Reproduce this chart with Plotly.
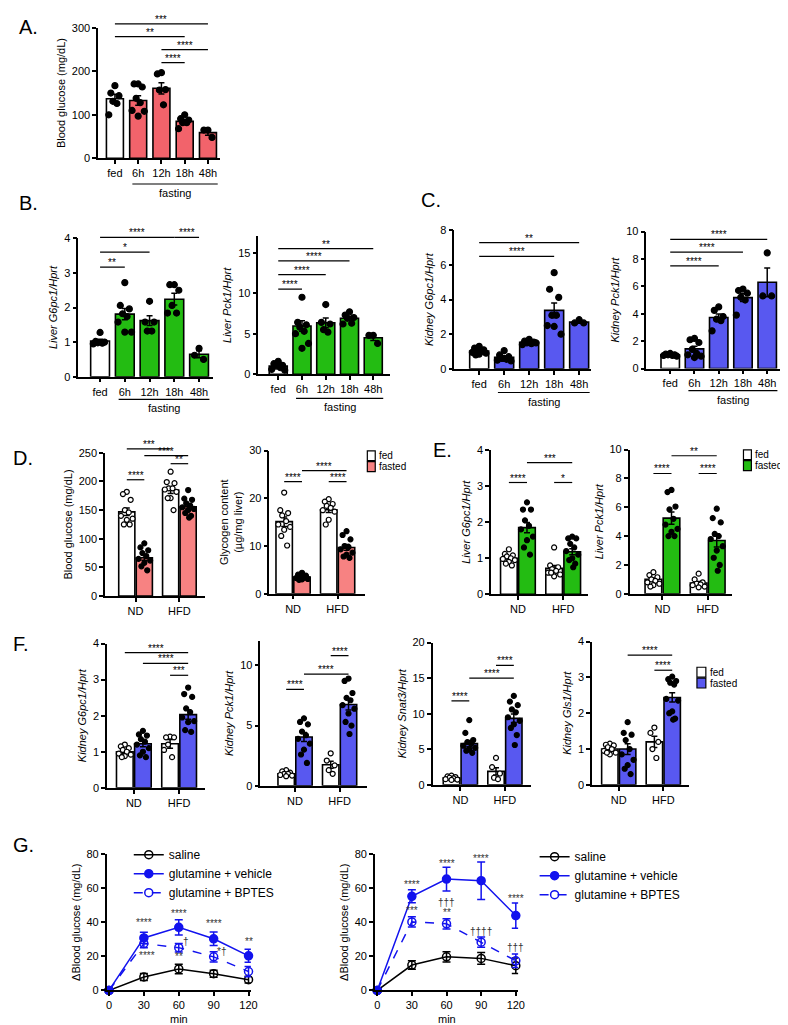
import plotly.graph_objects as go

W, H = 788, 1025
FONT = "Arial, Liberation Sans, Helvetica, sans-serif"

# colours
WHITE = "white"
RED = "#f2636b"
PINK = "#f78282"
GREEN = "#23bc12"
PURPLE = "#5858f0"
BLUE = "#1212ee"

# ---------------- data ----------------
time_labels = ["fed", "6h", "12h", "18h", "48h"]
diet_labels = ["ND", "HFD"]

# A. blood glucose during fasting
a_mean = [137, 133, 161, 85, 59]
a_sem = [10, 11, 13, 4, 6]
a_pts = [[167, 150, 144, 131, 126, 100], [171, 171, 164, 138, 128, 110, 108, 97],
         [197, 194, 158, 157, 123], [100, 91, 88, 82, 82, 68], [65, 65, 48]]
a_sig = [(0, 4, 309, "***"), (0, 3, 280, "**"), (2, 4, 250, "****"), (2, 3, 220, "****")]

# B. liver
b1_mean = [1.03, 1.81, 1.62, 2.24, 0.65]
b1_sem = [0.05, 0.16, 0.14, 0.17, 0.1]
b1_pts = [[1.28, 1.02, 1.0, 0.98, 0.97, 0.95], [2.72, 2.06, 1.96, 1.82, 1.74, 1.58, 1.29, 1.29],
          [2.18, 1.58, 1.58, 1.32, 1.32], [2.66, 2.66, 2.5, 2.06, 1.84, 1.84], [0.82, 0.62, 0.5]]
b1_sig = [(0, 3, 4.03, "****"), (3, 4, 4.03, "****"), (0, 2, 3.6, "*"), (0, 1, 3.17, "**")]

b2_mean = [1.0, 5.95, 6.35, 6.9, 4.5]
b2_sem = [0.15, 0.65, 0.6, 0.25, 0.35]
b2_pts = [[1.6, 1.3, 1.1, 1.0, 0.8, 0.6, 0.5], [9.5, 6.4, 6.1, 5.8, 5.3, 5.0, 3.8, 3.2],
          [8.6, 6.4, 6.2, 5.5, 5.2], [7.7, 7.3, 7.0, 6.9, 6.3, 6.2], [4.8, 4.8, 3.8]]
b2_sig = [(0, 4, 15.5, "**"), (0, 3, 14.0, "****"), (0, 2, 12.3, "****"), (0, 1, 10.5, "****")]

# C. kidney
c1_mean = [1.03, 0.66, 1.53, 3.38, 2.7]
c1_sem = [0.05, 0.07, 0.04, 0.43, 0.06]
c1_pts = [[1.3, 1.2, 1.1, 1.05, 1.0, 0.95, 0.9, 0.85, 0.8], [1.05, 0.8, 0.7, 0.6, 0.55, 0.5, 0.45, 0.6],
          [1.7, 1.6, 1.55, 1.5, 1.45, 1.4, 1.5], [5.56, 4.6, 4.13, 3.1, 3.1, 2.5, 2.0, 2.45], [2.84, 2.65, 2.65]]
c1_sig = [(0, 4, 7.3, "**"), (0, 3, 6.5, "****")]

c2_mean = [1.0, 1.43, 3.73, 5.18, 6.3]
c2_sem = [0.03, 0.2, 0.25, 0.28, 1.05]
c2_pts = [[1.1, 1.05, 1.0, 1.0, 0.95, 0.95, 0.9], [2.2, 2.1, 1.9, 1.4, 1.1, 1.0, 0.9, 0.8],
          [4.5, 4.25, 3.8, 3.6, 3.5, 2.75], [5.8, 5.7, 5.5, 5.2, 5.0, 3.9], [8.45, 5.3, 5.3]]
c2_sig = [(0, 4, 9.44, "****"), (0, 3, 8.5, "****"), (0, 2, 7.5, "****")]

# D. ND / HFD  (order: fed ND, fasted ND, fed HFD, fasted HFD)
d1_mean = [147, 67, 185, 156]
d1_sem = [6.5, 4.5, 6, 4]
d1_pts = [[182, 178, 168, 150, 146, 140, 135, 133, 125, 125], [92, 85, 80, 75, 70, 65, 62, 58, 52, 45],
          [217, 199, 197, 188, 188, 186, 182, 171, 171, 150], [185, 170, 168, 162, 158, 155, 152, 150, 145, 140, 137]]
d1_sig = [(0, 2, 257, "***"), (1, 3, 245, "****"), (2, 3, 231, "**"), (0, 1, 203, "****")]

d2_mean = [15.1, 3.5, 17.6, 9.7]
d2_sem = [1.0, 0.2, 0.6, 0.6]
d2_pts = [[21.2, 17.5, 16.9, 16.4, 15.2, 14.5, 14.0, 13.4, 12.1, 10.1], [4.4, 4.0, 3.8, 3.6, 3.5, 3.3, 3.1, 3.0, 2.9, 3.4],
          [19.8, 19.3, 18.8, 18.4, 18.0, 17.5, 17.2, 15.5, 14.5], [13.1, 12.3, 11.4, 10.0, 9.8, 9.3, 8.6, 8.2, 7.8, 7.5]]
d2_sig = [(0, 1, 23.5, "****"), (1, 3, 25.8, "****"), (2, 3, 23.5, "****")]

# E. liver ND / HFD
e1_mean = [1.0, 1.85, 0.72, 1.18]
e1_sem = [0.05, 0.14, 0.08, 0.08]
e1_pts = [[1.25, 1.12, 1.08, 1.05, 1.0, 0.98, 0.95, 0.9, 0.85, 0.8], [2.55, 2.35, 2.35, 2.05, 1.9, 1.8, 1.6, 1.5, 1.3, 1.1],
          [1.3, 0.8, 0.75, 0.7, 0.65, 0.6, 0.55, 0.5, 0.6], [1.6, 1.55, 1.55, 1.4, 1.3, 1.2, 1.1, 1.0, 0.95, 0.85, 0.75]]
e1_sig = [(1, 3, 3.65, "***"), (0, 1, 3.1, "****"), (2, 3, 3.1, "*")]

e2_mean = [1.0, 5.25, 0.75, 3.7]
e2_sem = [0.1, 0.42, 0.1, 0.45]
e2_pts = [[1.5, 1.3, 1.15, 1.0, 0.9, 0.8, 0.7, 0.6, 0.5], [7.2, 7.05, 6.05, 5.85, 5.2, 4.8, 4.5, 4.3, 4.0, 4.0],
          [1.4, 1.0, 0.8, 0.7, 0.65, 0.6, 0.5, 0.45], [5.9, 5.25, 4.95, 4.15, 4.0, 3.8, 3.3, 3.0, 2.5, 2.0, 1.6]]
e2_sig = [(1, 3, 9.57, "**"), (0, 1, 8.34, "****"), (2, 3, 8.34, "****")]

# F. kidney ND / HFD
f1_mean = [1.0, 1.22, 1.22, 2.03]
f1_sem = [0.04, 0.08, 0.12, 0.13]
f1_pts = [[1.2, 1.15, 1.1, 1.05, 1.0, 0.95, 0.92, 0.88, 0.85], [1.58, 1.48, 1.45, 1.35, 1.28, 1.2, 1.1, 1.0, 0.9, 0.85],
          [1.42, 1.4, 1.4, 1.2, 0.85, 1.05], [2.78, 2.6, 2.52, 2.2, 2.1, 1.95, 1.85, 1.82, 1.6, 1.55]]
f1_sig = [(0, 3, 3.75, "****"), (1, 3, 3.45, "****"), (2, 3, 3.12, "***")]

f2_mean = [1.0, 4.05, 1.75, 6.75]
f2_sem = [0.06, 0.38, 0.3, 0.45]
f2_pts = [[1.3, 1.2, 1.1, 1.0, 1.0, 0.9, 0.85, 0.8], [5.6, 5.3, 5.1, 4.5, 4.2, 3.9, 3.5, 3.0, 2.6, 1.9],
          [2.7, 2.1, 1.7, 1.3, 1.0], [8.9, 8.7, 7.7, 7.3, 7.1, 6.7, 6.4, 6.0, 5.3, 5.0, 4.3]]
f2_sig = [(0, 1, 8.0, "****"), (1, 3, 9.26, "****"), (2, 3, 10.8, "****")]

f3_mean = [1.0, 5.8, 1.9, 9.35]
f3_sem = [0.07, 0.45, 0.5, 0.6]
f3_pts = [[1.3, 1.2, 1.1, 1.0, 0.9, 0.8, 0.75, 0.7], [9.1, 7.3, 6.3, 6.0, 5.8, 5.5, 5.2, 5.0, 4.8, 4.5],
          [3.8, 2.5, 1.6, 1.0, 0.8], [12.5, 11.7, 11.2, 10.6, 10.2, 9.5, 9.0, 8.5, 8.0, 7.0, 5.6]]
f3_sig = [(0, 1, 11.8, "****"), (1, 3, 15.0, "****"), (2, 3, 16.8, "****")]

f4_mean = [1.0, 1.0, 1.2, 2.44]
f4_sem = [0.04, 0.15, 0.16, 0.13]
f4_pts = [[1.15, 1.12, 1.1, 1.05, 1.0, 0.95, 0.9, 0.85, 0.9], [1.75, 1.45, 1.4, 1.25, 1.0, 0.85, 0.7, 0.55, 0.45, 0.3],
          [1.6, 1.45, 1.2, 1.0, 0.75], [3.02, 2.95, 2.9, 2.85, 2.8, 2.4, 2.35, 2.05, 2.0, 1.85, 1.82]]
f4_sig = [(1, 3, 3.62, "****"), (2, 3, 3.2, "****")]

# G. glutamine tolerance
g_min = [0, 30, 60, 90, 120]
g1_saline = [0, 7.9, 12.6, 9.8, 6.3]
g1_saline_sem = [0, 2, 2.8, 2, 2]
g1_veh = [0, 30.8, 37, 30.3, 20.3]
g1_veh_sem = [0, 3.3, 4.5, 4, 3.8]
g1_bptes = [0, 27.5, 25.1, 19.7, 11.1]
g1_bptes_sem = [0, 2.5, 2.5, 3, 3]
g1_notes = [(30, 39.8, "****"), (60, 45.2, "****"), (90, 39.1, "****"), (120, 28.6, "**"),
            (33, 20.7, "****"), (60, 20, "**"), (66, 28.9, "†"), (97, 22.6, "*†")]

g2_saline = [0, 14.9, 19.7, 18.8, 14.5]
g2_saline_sem = [0, 2.5, 3, 3.4, 4.5]
g2_veh = [0, 55.2, 65.3, 64.4, 43.9]
g2_veh_sem = [0, 3.8, 7, 11, 7.4]
g2_bptes = [0, 40.2, 39.1, 28.3, 17.4]
g2_bptes_sem = [0, 3, 3, 3, 4]
g2_notes = [(30, 61.9, "****"), (60, 74.3, "****"), (90, 77.4, "****"), (120, 53.8, "****"),
            (30, 47.1, "***"), (60, 51.5, "†††"), (60, 45.5, "**"), (90, 34.7, "††††"), (120, 25.1, "†††")]

series_names = ["saline", "glutamine + vehicle", "glutamine + BPTES"]

# ---------------- layout (pixel positions of each panel) ----------------
pos5 = [0, 1, 2, 3, 4]
pos4 = [0, 1, 2.5, 3.5]
SPREAD = [0, -0.6, 0.6, -0.3, 0.3, -0.9, 0.9, 0.0, -0.45, 0.45, 0.15, -0.15]

panels = {
    "A": dict(x=(90, 213), y=(146, 14), c=(107, 201), ymax=300, dtick=100, fast=172),
    "B1": dict(x=(70, 206), y=(367, 227), c=(92, 192), ymax=4, dtick=1, fast=390),
    "B2": dict(x=(252, 385), y=(364.5, 225.1), c=(272, 368), ymax=17, dtick=5, fast=389),
    "C1": dict(x=(450, 588), y=(359, 219), c=(475, 576), ymax=8, dtick=2, fast=383),
    "C2": dict(x=(644, 780), y=(358.7, 220.2), c=(668, 766), ymax=10, dtick=2, fast=381),
    "D1": dict(x=(97, 198), y=(589, 444), c=(119, 181), ymax=250, dtick=50),
    "D2": dict(x=(263, 360), y=(586.6, 441.7), c=(278, 341), ymax=30, dtick=10),
    "E1": dict(x=(487, 585), y=(587.2, 441.2), c=(505, 569), ymax=4, dtick=1),
    "E2": dict(x=(627, 730), y=(586.7, 440.7), c=(651, 715), ymax=10, dtick=2),
    "F1": dict(x=(99, 198), y=(783, 637), c=(117, 181), ymax=4, dtick=1),
    "F2": dict(x=(254, 362), y=(781, 634.6), c=(280, 343), ymax=12, dtick=5),
    "F3": dict(x=(428, 527), y=(780, 636), c=(447, 510), ymax=20, dtick=5),
    "F4": dict(x=(589, 687), y=(780, 635), c=(607, 670), ymax=4, dtick=1),
}

fig = go.Figure()
shapes, annots, axes = [], [], {}


def pxx(p):
    return p / W


def pxy(p):
    return 1 - p / H


def names(k):
    s = "" if k == 1 else str(k)
    return "x" + s, "y" + s, "xaxis" + s, "yaxis" + s


def common_axis():
    return dict(showline=True, linecolor="black", linewidth=1.5, ticks="outside", ticklen=4,
                tickwidth=1.5, tickcolor="black", tickfont=dict(size=11, color="black"),
                showgrid=False, zeroline=False, fixedrange=True)


def bar_panel(k, sp, positions, tickvals, ticktext, means, sems, pts, fills, open_groups, sig,
              ytitle, bw, dot):
    xa, ya, xk, yk = names(k)
    c0, c1 = sp["c"]
    unit = (c1 - c0) / (positions[-1] - positions[0])
    x0, x1 = sp["x"]
    xr = [positions[0] - (c0 - x0) / unit, positions[0] + (x1 - c0) / unit]
    ydom = [pxy(sp["y"][0]), pxy(sp["y"][1])]
    axes[xk] = dict(common_axis(), domain=[pxx(x0), pxx(x1)], range=xr, anchor=ya,
                    tickvals=tickvals, ticktext=ticktext)
    axes[yk] = dict(common_axis(), domain=ydom, range=[0, sp["ymax"]], anchor=xa,
                    tick0=0, dtick=sp["dtick"],
                    title=dict(text=ytitle, font=dict(size=11, color="black"), standoff=4))
    fig.add_trace(go.Bar(x=positions, y=means, width=bw,
                         marker=dict(color=fills, line=dict(color="black", width=1.6)),
                         error_y=dict(type="data", array=sems, color="black", thickness=1.5, width=3),
                         xaxis=xa, yaxis=ya, showlegend=False, hoverinfo="skip"))
    xs, ys, cols = [], [], []
    for g, vals in enumerate(pts):
        for i, v in enumerate(vals):
            xs.append(positions[g] + SPREAD[i % len(SPREAD)] * bw * 0.4)
            ys.append(v)
            cols.append(WHITE if g in open_groups else "black")
    fig.add_trace(go.Scatter(x=xs, y=ys, mode="markers",
                             marker=dict(size=dot, color=cols, line=dict(color="black", width=1.2)),
                             xaxis=xa, yaxis=ya, showlegend=False, cliponaxis=False, hoverinfo="skip"))

    def to_paper(v):
        return ydom[0] + v / sp["ymax"] * (ydom[1] - ydom[0])

    for i, j, yv, lab in sig:
        yp = to_paper(yv)
        shapes.append(dict(type="line", xref=xa, yref="paper", x0=positions[i], x1=positions[j],
                           y0=yp, y1=yp, line=dict(color="black", width=1.2)))
        annots.append(dict(xref=xa, yref="paper", x=(positions[i] + positions[j]) / 2, y=yp,
                           text=lab, showarrow=False, yanchor="bottom", yshift=-3,
                           font=dict(size=10, color="black")))
    if "fast" in sp:
        fy = pxy(sp["fast"])
        shapes.append(dict(type="line", xref=xa, yref="paper", x0=positions[1] - 0.25,
                           x1=positions[-1] + 0.42, y0=fy, y1=fy, line=dict(color="black", width=1.2)))
        annots.append(dict(xref=xa, yref="paper", x=(positions[1] + positions[-1]) / 2 + 0.08,
                           y=fy, text="fasting", showarrow=False, yanchor="top", yshift=-1,
                           font=dict(size=11, color="black")))


# A-C
bar_panel(1, panels["A"], pos5, pos5, time_labels, a_mean, a_sem, a_pts,
          [WHITE] + [RED] * 4, [], a_sig, "Blood glucose (mg/dL)", 0.73, 6)
bar_panel(2, panels["B1"], pos5, pos5, time_labels, b1_mean, b1_sem, b1_pts,
          [WHITE] + [GREEN] * 4, [], b1_sig, "<i>Liver G6pc1/Hprt</i>", 0.76, 6)
bar_panel(3, panels["B2"], pos5, pos5, time_labels, b2_mean, b2_sem, b2_pts,
          [WHITE] + [GREEN] * 4, [], b2_sig, "<i>Liver Pck1/Hprt</i>", 0.76, 6)
bar_panel(4, panels["C1"], pos5, pos5, time_labels, c1_mean, c1_sem, c1_pts,
          [WHITE] + [PURPLE] * 4, [], c1_sig, "<i>Kidney G6pc1/Hprt</i>", 0.76, 6)
bar_panel(5, panels["C2"], pos5, pos5, time_labels, c2_mean, c2_sem, c2_pts,
          [WHITE] + [PURPLE] * 4, [], c2_sig, "<i>Kidney Pck1/Hprt</i>", 0.76, 6)

# D-F
diet_ticks = [0.5, 3.0]
bar_panel(6, panels["D1"], pos4, diet_ticks, diet_labels, d1_mean, d1_sem, d1_pts,
          [WHITE, PINK, WHITE, PINK], [0, 2], d1_sig, "Blood glucose (mg/dL)", 0.92, 5)
bar_panel(7, panels["D2"], pos4, diet_ticks, diet_labels, d2_mean, d2_sem, d2_pts,
          [WHITE, PINK, WHITE, PINK], [0, 2], d2_sig, "Glycogen content<br>(µg/mg liver)", 0.92, 5)
bar_panel(8, panels["E1"], pos4, diet_ticks, diet_labels, e1_mean, e1_sem, e1_pts,
          [WHITE, GREEN, WHITE, GREEN], [0, 2], e1_sig, "<i>Liver G6pc1/Hprt</i>", 0.92, 5)
bar_panel(9, panels["E2"], pos4, diet_ticks, diet_labels, e2_mean, e2_sem, e2_pts,
          [WHITE, GREEN, WHITE, GREEN], [0, 2], e2_sig, "<i>Liver Pck1/Hprt</i>", 0.92, 5)
bar_panel(10, panels["F1"], pos4, diet_ticks, diet_labels, f1_mean, f1_sem, f1_pts,
          [WHITE, PURPLE, WHITE, PURPLE], [0, 2], f1_sig, "<i>Kidney G6pc1/Hprt</i>", 0.92, 5)
bar_panel(11, panels["F2"], pos4, diet_ticks, diet_labels, f2_mean, f2_sem, f2_pts,
          [WHITE, PURPLE, WHITE, PURPLE], [0, 2], f2_sig, "<i>Kidney Pck1/Hprt</i>", 0.92, 5)
bar_panel(12, panels["F3"], pos4, diet_ticks, diet_labels, f3_mean, f3_sem, f3_pts,
          [WHITE, PURPLE, WHITE, PURPLE], [0, 2], f3_sig, "<i>Kidney Snat3/Hprt</i>", 0.92, 5)
bar_panel(13, panels["F4"], pos4, diet_ticks, diet_labels, f4_mean, f4_sem, f4_pts,
          [WHITE, PURPLE, WHITE, PURPLE], [0, 2], f4_sig, "<i>Kidney Gls1/Hprt</i>", 0.92, 5)

# G: line panels
g_panels = {
    "G1": dict(zero=101, end=242, y=(988, 850), legend="legend"),
    "G2": dict(zero=372, end=512, y=(988, 850), legend="legend2"),
}


def line_panel(k, sp, data, notes):
    xa, ya, xk, yk = names(k)
    ppu = (sp["end"] - sp["zero"]) / 120
    xr = [-2, 122]
    x0 = sp["zero"] + xr[0] * ppu
    x1 = sp["zero"] + xr[1] * ppu
    axes[xk] = dict(common_axis(), domain=[pxx(x0), pxx(x1)], range=xr, anchor=ya, tickvals=g_min)
    axes[yk] = dict(common_axis(), domain=[pxy(sp["y"][0]), pxy(sp["y"][1])], range=[0, 80], anchor=xa,
                    tick0=0, dtick=20,
                    title=dict(text="ΔBlood glucose (mg/dL)", font=dict(size=11, color="black"), standoff=4))
    # x-axis title placed just under the tick labels so it stays inside the page
    annots.append(dict(xref=xa, yref="paper", x=60, y=pxy(1017), text="min", showarrow=False,
                       yanchor="middle", font=dict(size=11, color="black")))
    styles = [
        dict(color="black", dash="solid", symbol="circle-open"),
        dict(color=BLUE, dash="solid", symbol="circle"),
        dict(color=BLUE, dash="dash", symbol="circle-open"),
    ]
    for name, (vals, sems), st in zip(series_names, data, styles):
        fig.add_trace(go.Scatter(
            x=g_min, y=vals, name=name, mode="lines+markers",
            line=dict(color=st["color"], width=1.5, dash=st["dash"]),
            marker=dict(symbol=st["symbol"], size=8, color=st["color"], line=dict(width=1.5, color=st["color"])),
            error_y=dict(type="data", array=sems, color=st["color"], thickness=1.5, width=4),
            xaxis=xa, yaxis=ya, cliponaxis=False, legend=sp["legend"], hoverinfo="skip"))
    for xv, yv, txt in notes:
        annots.append(dict(xref=xa, yref=ya, x=xv, y=yv, text=txt, showarrow=False,
                           font=dict(size=10, color="#333333")))


line_panel(14, g_panels["G1"],
           [(g1_saline, g1_saline_sem), (g1_veh, g1_veh_sem), (g1_bptes, g1_bptes_sem)], g1_notes)
line_panel(15, g_panels["G2"],
           [(g2_saline, g2_saline_sem), (g2_veh, g2_veh_sem), (g2_bptes, g2_bptes_sem)], g2_notes)

# fed / fasted keys for D, E, F
keys = [((362, 370), (442, 452), (453, 463), PINK),
        ((742, 750), (441, 451), (452, 462), GREEN),
        ((695, 704), (661, 671), (672, 682), PURPLE)]
for (kx0, kx1), fed_y, fast_y, col in keys:
    for (ky0, ky1), fill, lab in [(fed_y, WHITE, "fed"), (fast_y, col, "fasted")]:
        shapes.append(dict(type="rect", xref="paper", yref="paper", x0=pxx(kx0), x1=pxx(kx1),
                           y0=pxy(ky1), y1=pxy(ky0), fillcolor=fill, line=dict(color="black", width=1.2)))
        annots.append(dict(xref="paper", yref="paper", x=pxx(kx1 + 2), y=pxy((ky0 + ky1) / 2),
                           text=lab, showarrow=False, xanchor="left", yanchor="middle",
                           font=dict(size=10, color="black")))

# panel letters
letters = [("A.", 8, 13), ("B.", 8, 191), ("C.", 414, 188), ("D.", 2, 449),
           ("E.", 426, 441), ("F.", 2, 637), ("G.", 2, 841)]
for txt, lx, ly in letters:
    annots.append(dict(xref="paper", yref="paper", x=pxx(lx), y=pxy(ly), text=txt, showarrow=False,
                       xanchor="left", yanchor="middle", font=dict(size=20, color="black")))

fig.update_layout(
    width=W, height=H, margin=dict(l=0, r=0, t=0, b=0),
    paper_bgcolor="white", plot_bgcolor="white",
    font=dict(family=FONT, size=11, color="black"),
    barmode="overlay",
    shapes=shapes, annotations=annots,
    legend=dict(x=pxx(121), y=pxy(836), xanchor="left", yanchor="top", bgcolor="rgba(0,0,0,0)",
                font=dict(size=12), tracegroupgap=0),
    legend2=dict(x=pxx(531), y=pxy(838), xanchor="left", yanchor="top", bgcolor="rgba(0,0,0,0)",
                 font=dict(size=12), tracegroupgap=0),
    **axes,
)

fig.write_html("out.html")
